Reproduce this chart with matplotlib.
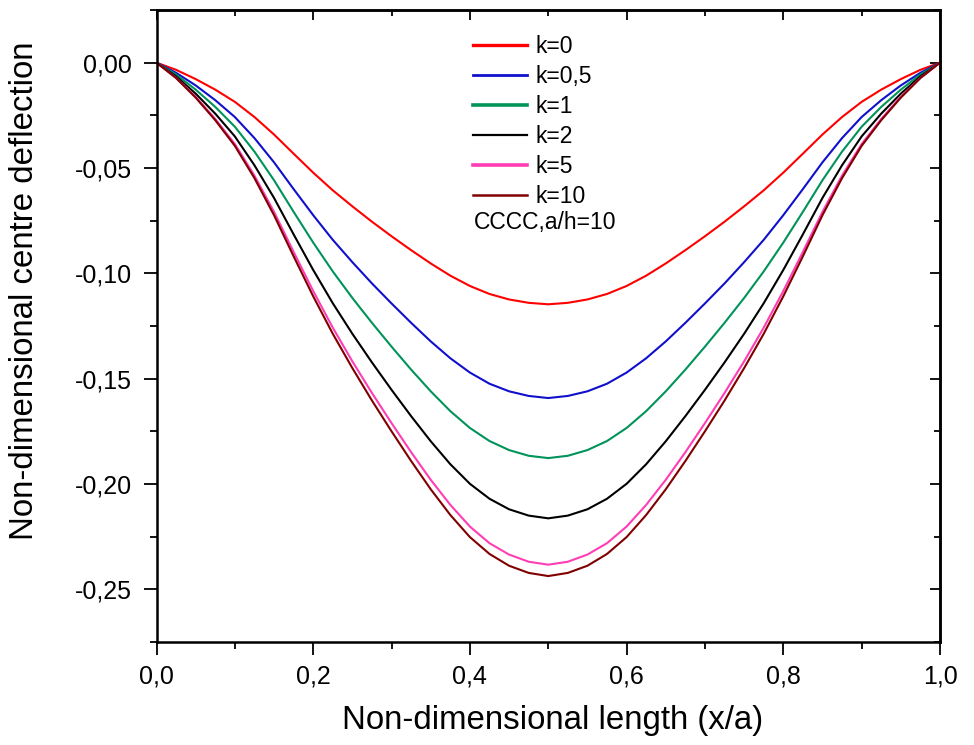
import matplotlib
matplotlib.use("Agg")
import matplotlib.pyplot as plt
from matplotlib.ticker import MultipleLocator, FuncFormatter
from matplotlib.lines import Line2D

plt.rcParams['font.family'] = ['Liberation Sans', 'DejaVu Sans']

x_vals = [0.000, 0.025, 0.050, 0.075, 0.100, 0.125, 0.150, 0.175, 0.200, 0.225,
          0.250, 0.275, 0.300, 0.325, 0.350, 0.375, 0.400, 0.425, 0.450, 0.475,
          0.500,
          0.525, 0.550, 0.575, 0.600, 0.625, 0.650, 0.675, 0.700, 0.725, 0.750,
          0.775, 0.800, 0.825, 0.850, 0.875, 0.900, 0.925, 0.950, 0.975, 1.000]

k0 = [0, -0.0034, -0.0078, -0.0128, -0.0186, -0.0258, -0.0341, -0.0432, -0.0522, -0.0606,
      -0.0682, -0.0755, -0.0824, -0.0890, -0.0953, -0.1011, -0.1060, -0.1098, -0.1124, -0.1140,
      -0.1147,
      -0.1140, -0.1124, -0.1098, -0.1060, -0.1011, -0.0953, -0.0890, -0.0824, -0.0755, -0.0682,
      -0.0606, -0.0522, -0.0432, -0.0341, -0.0258, -0.0186, -0.0128, -0.0078, -0.0034, 0]
k05 = [0, -0.0048, -0.0108, -0.0178, -0.0258, -0.0358, -0.0473, -0.0600, -0.0724, -0.0841,
       -0.0947, -0.1048, -0.1143, -0.1235, -0.1323, -0.1403, -0.1471, -0.1524, -0.1560, -0.1582,
       -0.1592,
       -0.1582, -0.1560, -0.1524, -0.1471, -0.1403, -0.1323, -0.1235, -0.1143, -0.1048, -0.0947,
       -0.0841, -0.0724, -0.0600, -0.0473, -0.0358, -0.0258, -0.0178, -0.0108, -0.0048, 0]
k1 = [0, -0.0056, -0.0128, -0.0210, -0.0304, -0.0422, -0.0558, -0.0708, -0.0854, -0.0991,
      -0.1117, -0.1235, -0.1348, -0.1457, -0.1560, -0.1654, -0.1734, -0.1796, -0.1839, -0.1866,
      -0.1877,
      -0.1866, -0.1839, -0.1796, -0.1734, -0.1654, -0.1560, -0.1457, -0.1348, -0.1235, -0.1117,
      -0.0991, -0.0854, -0.0708, -0.0558, -0.0422, -0.0304, -0.0210, -0.0128, -0.0056, 0]
k2 = [0, -0.0065, -0.0147, -0.0242, -0.0350, -0.0487, -0.0642, -0.0815, -0.0984, -0.1142,
      -0.1287, -0.1423, -0.1553, -0.1678, -0.1797, -0.1906, -0.1999, -0.2070, -0.2120, -0.2150,
      -0.2163,
      -0.2150, -0.2120, -0.2070, -0.1999, -0.1906, -0.1797, -0.1678, -0.1553, -0.1423, -0.1287,
      -0.1142, -0.0984, -0.0815, -0.0642, -0.0487, -0.0350, -0.0242, -0.0147, -0.0065, 0]
k5 = [0, -0.0072, -0.0162, -0.0267, -0.0386, -0.0536, -0.0708, -0.0898, -0.1084, -0.1258,
      -0.1418, -0.1568, -0.1711, -0.1849, -0.1980, -0.2099, -0.2202, -0.2281, -0.2335, -0.2369,
      -0.2383,
      -0.2369, -0.2335, -0.2281, -0.2202, -0.2099, -0.1980, -0.1849, -0.1711, -0.1568, -0.1418,
      -0.1258, -0.1084, -0.0898, -0.0708, -0.0536, -0.0386, -0.0267, -0.0162, -0.0072, 0]
k10 = [0, -0.0073, -0.0166, -0.0273, -0.0395, -0.0548, -0.0724, -0.0919, -0.1109, -0.1287,
       -0.1450, -0.1604, -0.1750, -0.1891, -0.2025, -0.2147, -0.2252, -0.2332, -0.2388, -0.2422,
       -0.2437,
       -0.2422, -0.2388, -0.2332, -0.2252, -0.2147, -0.2025, -0.1891, -0.1750, -0.1604, -0.1450,
       -0.1287, -0.1109, -0.0919, -0.0724, -0.0548, -0.0395, -0.0273, -0.0166, -0.0073, 0]

labels = ["k=0", "k=0,5", "k=1", "k=2", "k=5", "k=10"]
series = [k0, k05, k1, k2, k5, k10]
colors = ["#FF0000", "#1010CC", "#00935A", "#000000", "#FF3DB5", "#800000"]
legend_lw = [2.4, 2.0, 2.6, 1.6, 2.6, 1.8]
note = "CCCC,a/h=10"

fig = plt.figure(figsize=(9.74, 7.45), dpi=100)
ax = fig.add_axes([156.5/974, 103/745, (940-156.5)/974, (642-10)/745])

for ys, c in zip(series, colors):
    ax.plot(x_vals, ys, color=c, lw=1.5)

ax.set_xlim(0, 1)
ax.set_ylim(-0.275, 0.025)

ax.xaxis.set_major_locator(MultipleLocator(0.2))
ax.xaxis.set_minor_locator(MultipleLocator(0.1))
ax.yaxis.set_major_locator(MultipleLocator(0.05))
ax.yaxis.set_minor_locator(MultipleLocator(0.025))

def fx(v, pos):
    return f"{v:.1f}".replace('.', ',')

def fy(v, pos):
    s = f"{v:.2f}"
    if s == "-0.00":
        s = "0.00"
    return s.replace('.', ',')

ax.xaxis.set_major_formatter(FuncFormatter(fx))
ax.yaxis.set_major_formatter(FuncFormatter(fy))

for sp in ax.spines.values():
    sp.set_linewidth(1.8)

ax.tick_params(which='major', direction='out', length=9.5, width=1.3, labelsize=18, pad=7)
ax.tick_params(which='minor', direction='out', length=5, width=1.3)
ax.tick_params(axis='y', which='major', pad=8)

secx = ax.secondary_xaxis('top')
secx.xaxis.set_major_locator(MultipleLocator(0.2))
secx.xaxis.set_minor_locator(MultipleLocator(0.1))
secx.tick_params(which='major', direction='in', length=7.5, width=1.3, labeltop=False)
secx.tick_params(which='minor', direction='in', length=4, width=1.3)
secx.spines['top'].set_linewidth(1.8)

secy = ax.secondary_yaxis('right')
secy.yaxis.set_major_locator(MultipleLocator(0.05))
secy.yaxis.set_minor_locator(MultipleLocator(0.025))
secy.tick_params(which='major', direction='in', length=7.5, width=1.3, labelright=False)
secy.tick_params(which='minor', direction='in', length=4, width=1.3)
secy.spines['right'].set_linewidth(1.8)

handles = [Line2D([], [], color=c, lw=w) for c, w in zip(colors, legend_lw)]
ax.legend(handles, labels, loc='upper left', bbox_to_anchor=(0.404, 0.96),
          frameon=False, fontsize=16.5, handlelength=2.36, handletextpad=0.35,
          labelspacing=0.3, borderpad=0, borderaxespad=0)
ax.text(0.405, 1 - (222.7 - 10) / 632, note, transform=ax.transAxes,
        fontsize=16.5, ha='left', va='center')

fig.text(553/974, 1 - 720/745, "Non-dimensional length (x/a)", fontsize=23.8,
         ha='center', va='center')
fig.text(25/974, 1 - 291/745, "Non-dimensional centre deflection", fontsize=23.8,
         ha='center', va='center', rotation=90)

fig.savefig("out.png", dpi=100)
